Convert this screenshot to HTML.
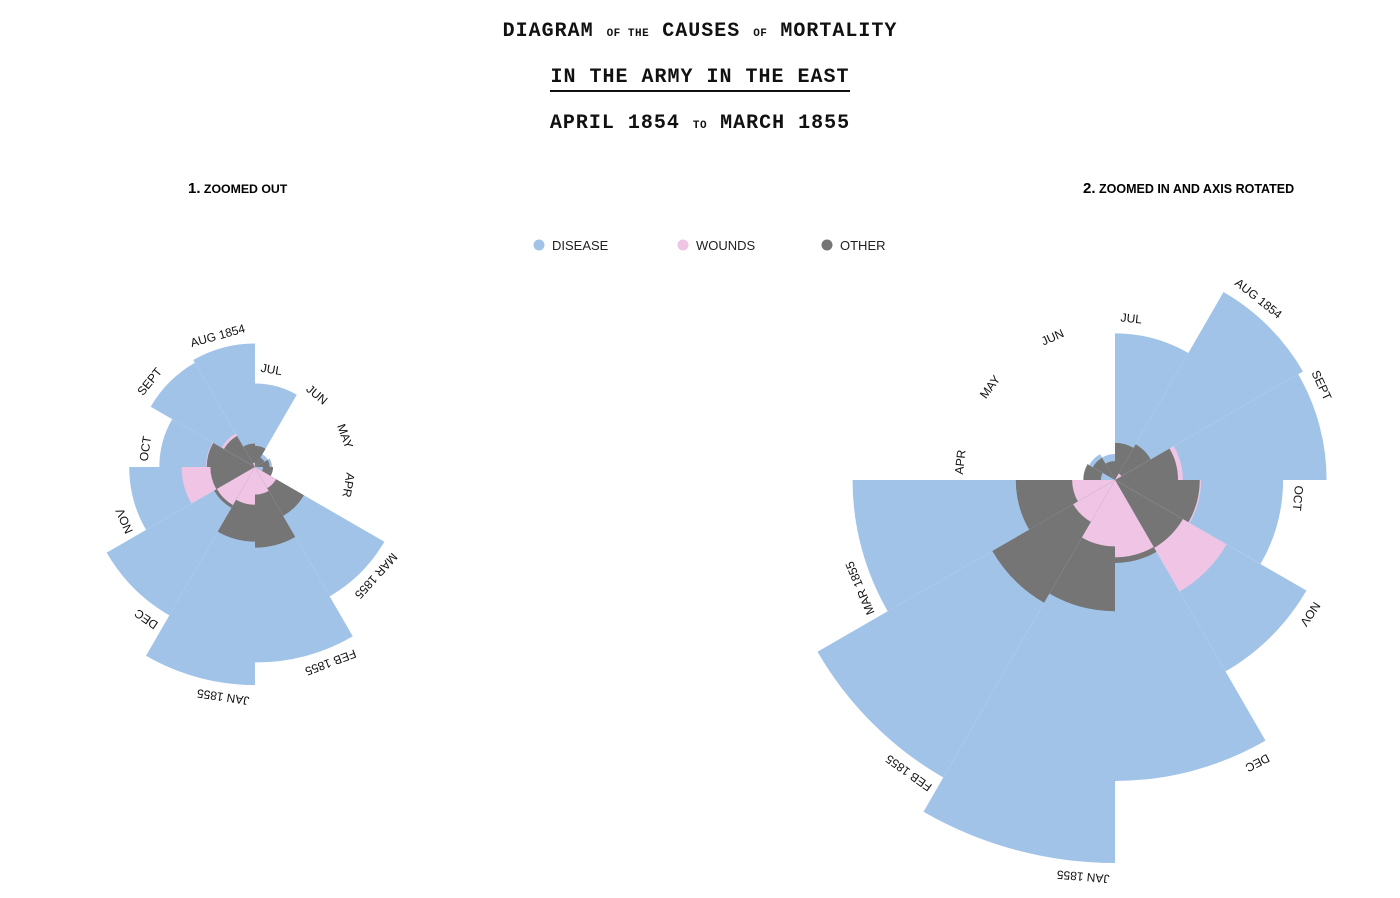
<!DOCTYPE html>
<html><head><meta charset="utf-8">
<style>
body{margin:0;background:#fff;width:1400px;height:898px;overflow:hidden;font-family:"Liberation Sans",sans-serif}
.t{position:absolute;left:0;width:1400px;text-align:center;font-family:"Liberation Mono",monospace;font-weight:bold;font-size:20px;color:#111;letter-spacing:1px}
.t small{font-size:11px;letter-spacing:0.5px}
</style></head><body>
<div class="t" style="top:20px">DIAGRAM <small>OF THE</small> CAUSES <small>OF</small> MORTALITY</div>
<div class="t" style="top:66px"><span style="border-bottom:2px solid #111;padding-bottom:1px">IN THE ARMY IN THE EAST</span></div>
<div class="t" style="top:112px">APRIL 1854 <small>TO</small> MARCH 1855</div>
<svg width="1400" height="898" style="position:absolute;left:0;top:0" id="svg">
<text x="188" y="193" font-size="12.3" font-weight="bold"><tspan font-size="15">1.</tspan> ZOOMED OUT</text>
<text x="1083" y="193" font-size="12.5" font-weight="bold"><tspan font-size="15">2.</tspan> ZOOMED IN AND AXIS ROTATED</text>
<g font-size="13" fill="#222">
<circle cx="539" cy="245" r="5.5" fill="#a2c3e8"/><text x="552" y="250">DISEASE</text>
<circle cx="683" cy="245" r="5.5" fill="#f0c4e4"/><text x="696" y="250">WOUNDS</text>
<circle cx="827" cy="245" r="5.5" fill="#757575"/><text x="840" y="250">OTHER</text>
</g>
</svg>
<script>
const months=["APR","MAY","JUN","JUL","AUG 1854","SEPT","OCT","NOV","DEC","JAN 1855","FEB 1855","MAR 1855"];
const disease=[1.4,6.2,4.7,150,328.5,312.2,197.0,340.6,631.5,1022.8,822.8,480.3];
const wounds=[0,0,0,0,0.4,32.1,51.7,115.8,41.7,30.7,16.3,12.8];
const other=[7.0,4.6,2.5,9.6,11.9,27.7,50.1,42.8,48.0,120.0,140.1,68.6];
const colors={disease:"#a2c3e8",wounds:"#f0c4e4",other:"#757575"};
const NS="http://www.w3.org/2000/svg",svg=document.getElementById("svg");
function draw(cx,cy,maxR,startDeg,dir,name){
  const g=document.createElementNS(NS,"g");
  
  
  svg.appendChild(g);
  const maxV=Math.max(...disease,...wounds,...other);
  const rs=v=>Math.sqrt(v/maxV)*maxR;
  const pt=(r,a)=>{const t=a*Math.PI/180;return [cx+r*Math.sin(t),cy-r*Math.cos(t)];};
  months.forEach((m,i)=>{
    let a0=startDeg+dir*30*i,a1=a0+dir*30;
    if(dir<0){const t=a0;a0=a1;a1=t;}
    const items=[["disease",disease[i]],["other",other[i]],["wounds",wounds[i]]].sort((a,b)=>b[1]-a[1]);
    items.forEach(([k,v])=>{
      const r=rs(v);if(r<=0)return;
      const p0=pt(r,a0),p1=pt(r,a1);
      const p=document.createElementNS(NS,"path");
      p.setAttribute("d",`M${cx},${cy}L${p0[0]},${p0[1]}A${r},${r} 0 0 1 ${p1[0]},${p1[1]}Z`);
      p.setAttribute("fill",colors[k]);
      
      
      g.appendChild(p);
    });
    const rl=Math.max(rs(Math.max(disease[i],wounds[i],other[i])),0.366*maxR)+12;
    const ang=a0+ (300/rl);
    const q=pt(rl,ang);
    const tx=document.createElementNS(NS,"text");
    const rot=ang+ (m.length*3.6)/rl*57.3;
    tx.setAttribute("transform",`translate(${q[0]},${q[1]}) rotate(${rot})`);
    tx.setAttribute("text-anchor","start");
    tx.setAttribute("font-size","12");
    tx.setAttribute("fill","#111");
    tx.textContent=m;
    
    
    g.appendChild(tx);
  });
}
draw(255,467,218,120,-1,"rose-zoomed-out");
draw(1115,480,383,270,1,"rose-zoomed-in");
</script>
</body></html>
